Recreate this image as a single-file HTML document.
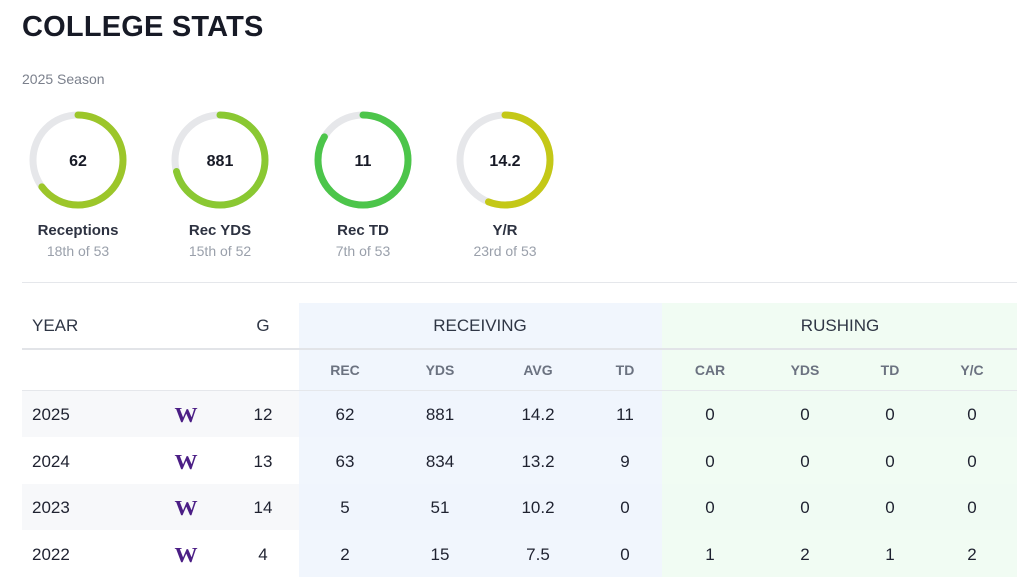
<!DOCTYPE html>
<html><head><style>
body{margin:0;width:1021px;height:581px;background:#fff;font-family:"Liberation Sans",sans-serif;position:relative;overflow:hidden;color:#1f2230}
.a{position:absolute}
h1{position:absolute;left:22px;top:11px;margin:0;font-size:29px;font-weight:bold;color:#171a26;letter-spacing:0.2px}
.rl{position:absolute;width:140px;text-align:center;font-size:15px;font-weight:bold;color:#2d3241;top:222px}
.rs{position:absolute;width:140px;text-align:center;font-size:14px;color:#9aa0ab;top:243px}
.c{position:absolute;text-align:center;width:80px;margin-left:-40px}
.h{font-size:17px;color:#2f3645}
.sh{font-size:14px;font-weight:bold;color:#6b7280}
.d{font-size:17px;color:#1f2230}
.w{font-family:"Liberation Serif",serif;font-weight:bold;color:#4b1e85;font-size:21px;transform:scaleX(1.1)}
</style></head><body>
<h1>COLLEGE STATS</h1>
<div class="a" style="left:22px;top:71px;font-size:14px;color:#7b808c">2025 Season</div>

<svg class="a" style="left:0;top:100px" width="600" height="120">
<g fill="none" stroke-width="7">
<circle cx="78" cy="60" r="45" stroke="#e6e7ea"/>
<circle cx="78" cy="60" r="45" stroke="#9cc62a" stroke-linecap="round" stroke-dasharray="183 400" transform="rotate(-90 78 60)"/>
<circle cx="220" cy="60" r="45" stroke="#e6e7ea"/>
<circle cx="220" cy="60" r="45" stroke="#8ac832" stroke-linecap="round" stroke-dasharray="200 400" transform="rotate(-90 220 60)"/>
<circle cx="363" cy="60" r="45" stroke="#e6e7ea"/>
<circle cx="363" cy="60" r="45" stroke="#4cc54a" stroke-linecap="round" stroke-dasharray="236 400" transform="rotate(-90 363 60)"/>
<circle cx="505" cy="60" r="45" stroke="#e6e7ea"/>
<circle cx="505" cy="60" r="45" stroke="#c4c817" stroke-linecap="round" stroke-dasharray="158 400" transform="rotate(-90 505 60)"/>
</g>
<g font-family="Liberation Sans" font-weight="bold" font-size="16" fill="#171a26" text-anchor="middle">
<text x="78" y="66">62</text><text x="220" y="66">881</text><text x="363" y="66">11</text><text x="505" y="66">14.2</text>
</g></svg>
<div class="rl" style="left:8px">Receptions</div><div class="rs" style="left:8px">18th of 53</div>
<div class="rl" style="left:150px">Rec YDS</div><div class="rs" style="left:150px">15th of 52</div>
<div class="rl" style="left:293px">Rec TD</div><div class="rs" style="left:293px">7th of 53</div>
<div class="rl" style="left:435px">Y/R</div><div class="rs" style="left:435px">23rd of 53</div>

<div class="a" style="left:22px;top:282px;width:995px;height:1px;background:#e5e7eb"></div>

<div class="a" style="left:22px;top:391px;width:995px;height:46px;background:#f7f8fa"></div>
<div class="a" style="left:22px;top:484px;width:995px;height:46px;background:#f7f8fa"></div>
<div class="a" style="left:299px;top:303px;width:363px;height:274px;background:#eef4fd;opacity:.85"></div>
<div class="a" style="left:662px;top:303px;width:355px;height:274px;background:#eefbf1;opacity:.85"></div>
<div class="a" style="left:22px;top:348px;width:995px;height:2px;background:#e2e4e8"></div>
<div class="a" style="left:22px;top:390px;width:995px;height:1px;background:#e5e7eb"></div>

<div class="a h" style="left:32px;top:316px">YEAR</div>
<div class="c h" style="left:263px;top:316px">G</div>
<div class="c h" style="left:480px;top:316px;width:200px;margin-left:-100px">RECEIVING</div>
<div class="c h" style="left:840px;top:316px;width:200px;margin-left:-100px">RUSHING</div>

<div class="c sh" style="left:345px;top:362px">REC</div>
<div class="c sh" style="left:440px;top:362px">YDS</div>
<div class="c sh" style="left:538px;top:362px">AVG</div>
<div class="c sh" style="left:625px;top:362px">TD</div>
<div class="c sh" style="left:710px;top:362px">CAR</div>
<div class="c sh" style="left:805px;top:362px">YDS</div>
<div class="c sh" style="left:890px;top:362px">TD</div>
<div class="c sh" style="left:972px;top:362px">Y/C</div>

<div class="a d" style="left:32px;top:405px">2025</div><div class="c w" style="left:186px;top:403px">W</div>
<div class="c d" style="left:263px;top:405px">12</div><div class="c d" style="left:345px;top:405px">62</div><div class="c d" style="left:440px;top:405px">881</div><div class="c d" style="left:538px;top:405px">14.2</div><div class="c d" style="left:625px;top:405px">11</div><div class="c d" style="left:710px;top:405px">0</div><div class="c d" style="left:805px;top:405px">0</div><div class="c d" style="left:890px;top:405px">0</div><div class="c d" style="left:972px;top:405px">0</div>

<div class="a d" style="left:32px;top:452px">2024</div><div class="c w" style="left:186px;top:450px">W</div>
<div class="c d" style="left:263px;top:452px">13</div><div class="c d" style="left:345px;top:452px">63</div><div class="c d" style="left:440px;top:452px">834</div><div class="c d" style="left:538px;top:452px">13.2</div><div class="c d" style="left:625px;top:452px">9</div><div class="c d" style="left:710px;top:452px">0</div><div class="c d" style="left:805px;top:452px">0</div><div class="c d" style="left:890px;top:452px">0</div><div class="c d" style="left:972px;top:452px">0</div>

<div class="a d" style="left:32px;top:498px">2023</div><div class="c w" style="left:186px;top:496px">W</div>
<div class="c d" style="left:263px;top:498px">14</div><div class="c d" style="left:345px;top:498px">5</div><div class="c d" style="left:440px;top:498px">51</div><div class="c d" style="left:538px;top:498px">10.2</div><div class="c d" style="left:625px;top:498px">0</div><div class="c d" style="left:710px;top:498px">0</div><div class="c d" style="left:805px;top:498px">0</div><div class="c d" style="left:890px;top:498px">0</div><div class="c d" style="left:972px;top:498px">0</div>

<div class="a d" style="left:32px;top:545px">2022</div><div class="c w" style="left:186px;top:543px">W</div>
<div class="c d" style="left:263px;top:545px">4</div><div class="c d" style="left:345px;top:545px">2</div><div class="c d" style="left:440px;top:545px">15</div><div class="c d" style="left:538px;top:545px">7.5</div><div class="c d" style="left:625px;top:545px">0</div><div class="c d" style="left:710px;top:545px">1</div><div class="c d" style="left:805px;top:545px">2</div><div class="c d" style="left:890px;top:545px">1</div><div class="c d" style="left:972px;top:545px">2</div>
</body></html>
